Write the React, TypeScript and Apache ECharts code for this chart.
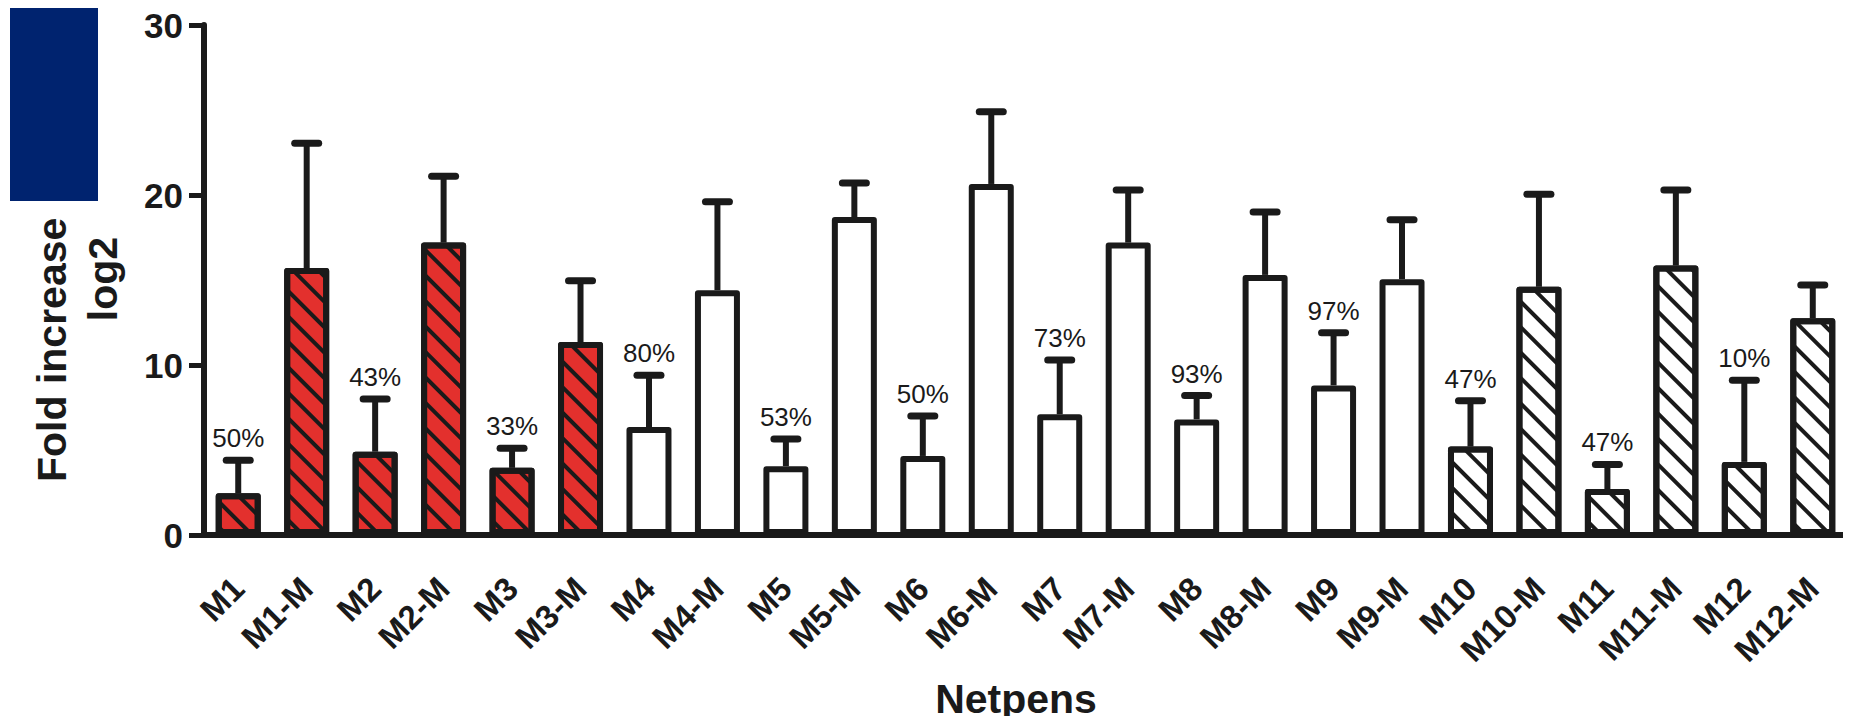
import React, { useEffect, useRef } from "react";
import * as echarts from "echarts";

const categories = [
  "M1", "M1-M", "M2", "M2-M", "M3", "M3-M", "M4", "M4-M", "M5", "M5-M", "M6", "M6-M",
  "M7", "M7-M", "M8", "M8-M", "M9", "M9-M", "M10", "M10-M", "M11", "M11-M", "M12", "M12-M",
];
const means = [
  2.45, 15.7, 4.9, 17.2, 3.95, 11.35, 6.35, 14.4, 4.05, 18.7, 4.65, 20.65,
  7.1, 17.2, 6.8, 15.3, 8.8, 15.05, 5.2, 14.6, 2.7, 15.85, 4.3, 12.75,
];
const errors = [
  1.95, 7.35, 3.1, 3.9, 1.15, 3.6, 3.05, 5.2, 1.6, 2.0, 2.35, 4.25,
  3.2, 3.1, 1.4, 3.7, 3.1, 3.5, 2.7, 5.45, 1.45, 4.45, 4.8, 1.95,
];
// percentage annotations above each netpen (non "-M") bar
const percentLabels = ["50%", "43%", "33%", "80%", "53%", "50%", "73%", "93%", "97%", "47%", "47%", "10%"];
// group: 0 = red hatched, 1 = white plain, 2 = white hatched
const groups = [0, 0, 0, 0, 0, 0, 1, 1, 1, 1, 1, 1, 1, 1, 1, 1, 1, 1, 2, 2, 2, 2, 2, 2];
const yTicks = [0, 10, 20, 30];

const INK = "#1a1a1a";
const RED = "#e3302d";
const FONT = "'Liberation Sans', Arial, Helvetica, sans-serif";

export default function App() {
  const ref = useRef<HTMLDivElement>(null);
  useEffect(() => {
    if (!ref.current) return;
    const chart = echarts.init(ref.current, null, { renderer: "svg" });
    const hatch = {
      symbol: "rect",
      symbolSize: 1,
      color: INK,
      dashArrayX: [1, 0],
      dashArrayY: [4, 14],
      rotation: Math.PI / 4,
    };
    const barData = means.map((v, i) => {
      const g = groups[i];
      const item: any = { value: v, itemStyle: { color: g === 0 ? RED : "#ffffff" } };
      if (g !== 1) item.itemStyle.decal = hatch;
      return item;
    });
    const errData = means.map((v, i) => [i, v, v + errors[i]]);

    chart.setOption({
      animation: false,
      backgroundColor: "#ffffff",
      grid: { left: 204, right: 4, top: 25, bottom: 189, containLabel: false },
      xAxis: {
        type: "category",
        data: categories,
        axisLine: { lineStyle: { color: INK, width: 6 } },
        axisTick: { alignWithLabel: true, interval: 0, length: 15, lineStyle: { color: INK, width: 5 } },
        axisLabel: {
          interval: 0,
          rotate: 45,
          margin: 48,
          color: INK,
          fontFamily: FONT,
          fontWeight: "bold",
          fontSize: 33,
        },
      },
      yAxis: {
        type: "value",
        min: yTicks[0],
        max: yTicks[yTicks.length - 1],
        interval: 10,
        axisLine: { show: true, lineStyle: { color: INK, width: 6 } },
        axisTick: { show: true, length: 15, lineStyle: { color: INK, width: 5 } },
        splitLine: { show: false },
        axisLabel: { color: INK, fontFamily: FONT, fontWeight: "bold", fontSize: 35, margin: 21 },
      },
      series: [
        {
          type: "custom",
          z: 2,
          data: errData,
          encode: { x: 0, y: [1, 2] },
          renderItem: (params: any, api: any) => {
            const i = api.value(0);
            const p0 = api.coord([i, api.value(1)]);
            const p1 = api.coord([i, api.value(2)]);
            const children: any[] = [
              { type: "line", shape: { x1: p0[0], y1: p0[1], x2: p1[0], y2: p1[1] }, style: { stroke: INK, lineWidth: 6 } },
              { type: "line", shape: { x1: p1[0] - 12, y1: p1[1], x2: p1[0] + 12, y2: p1[1] }, style: { stroke: INK, lineWidth: 7, lineCap: "round" } },
            ];
            const idx = params.dataIndex;
            if (idx % 2 === 0) {
              children.push({
                type: "text",
                x: p1[0],
                y: p1[1] - 9,
                style: { text: percentLabels[idx / 2], fill: INK, font: `26px ${FONT}`, align: "center", verticalAlign: "bottom" },
              });
            }
            return { type: "group", children };
          },
        },
        {
          type: "bar",
          z: 3,
          barWidth: 45,
          data: barData,
          itemStyle: { borderColor: INK, borderWidth: 6, borderJoin: "round" },
        },
      ],
      graphic: [
        {
          type: "text", x: 52, y: 482, rotation: Math.PI / 2,
          style: { text: "Fold increase", fill: INK, font: `bold 41px ${FONT}`, align: "left", verticalAlign: "middle" },
        },
        {
          type: "text", x: 103, y: 279, rotation: Math.PI / 2,
          style: { text: "log2", fill: INK, font: `bold 41px ${FONT}`, align: "center", verticalAlign: "middle" },
        },
        { type: "rect", shape: { x: 10, y: 8, width: 88, height: 193 }, style: { fill: "#00236f" }, z: 10 },
        {
          type: "text", x: 1016, y: 699,
          style: { text: "Netpens", fill: INK, font: `bold 41px ${FONT}`, align: "center", verticalAlign: "middle" },
        },
      ],
    });

    return () => chart.dispose();
  }, []);
  return <div ref={ref} style={{ width: 1851, height: 724, margin: -8 }} />;
}
